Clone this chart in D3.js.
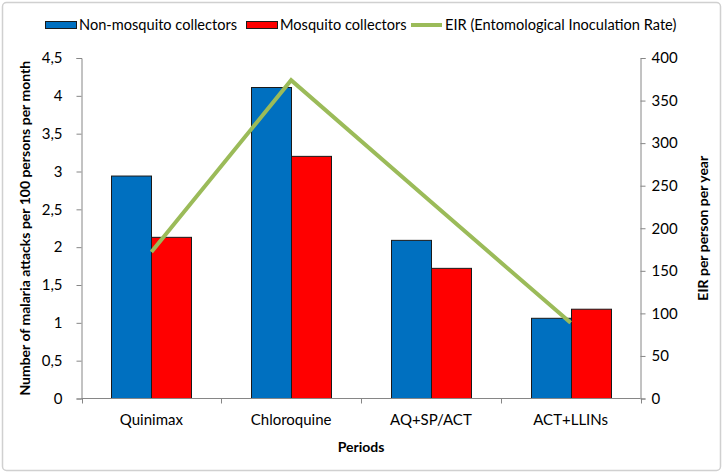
<!DOCTYPE html>
<html><head><meta charset="utf-8">
<script src="https://cdn.jsdelivr.net/npm/d3@7"></script>
<style>
body{margin:0;background:#fff;}
text{font-family:Lato,"Open Sans",sans-serif;}
</style></head>
<body><svg id="c" width="724" height="475"></svg>
<script>
const categories = ["Quinimax","Chloroquine","AQ+SP/ACT","ACT+LLINs"];
const nonMosquito = [2.94, 4.11, 2.09, 1.06];
const mosquito = [2.13, 3.20, 1.72, 1.18];
const eir = [172, 374, 231, 89];
const leftTicks = [0,0.5,1,1.5,2,2.5,3,3.5,4,4.5];
const rightTicks = [0,50,100,150,200,250,300,350,400];
const seriesNames = ["Non-mosquito collectors","Mosquito collectors","EIR (Entomological Inoculation Rate)"];

const svg = d3.select("#c");
const L = 81.5, R = 640.5, T = 58, B = 398.5;

svg.append("rect").attr("x",2.5).attr("y",2.5).attr("width",718).attr("height",468)
  .attr("rx",4).attr("fill","#fff").attr("stroke","#d0d0d0").attr("stroke-width",1.5);

const x0 = d3.scaleBand().domain(categories).range([L,R]).paddingInner(0.4275).paddingOuter(0.21375);
const x1 = d3.scaleBand().domain([0,1]).range([0,x0.bandwidth()]);
const yL = d3.scaleLinear().domain([0,4.5]).range([B,T]);
const yR = d3.scaleLinear().domain([0,400]).range([B,T]);
const fmt = d => String(d).replace(".",",");

// bars
const colors = ["#0070C0","#FF0000"];
[nonMosquito, mosquito].forEach((vals,si)=>{
  svg.append("g").selectAll("rect").data(vals).join("rect")
    .attr("x",(d,i)=>Math.round(x0(categories[i])+x1(si))+0.5)
    .attr("width",Math.round(x1.bandwidth()))
    .attr("y",d=>yL(d))
    .attr("height",d=>B-yL(d))
    .attr("fill",colors[si]).attr("stroke","#1a1a1a").attr("stroke-width",1);
});

// axes
const axColor="#868686";
const gl = svg.append("g").attr("transform",`translate(${L},0)`)
  .call(d3.axisLeft(yL).tickValues(leftTicks).tickFormat(fmt).tickSize(5).tickPadding(14));
const gr = svg.append("g").attr("transform",`translate(${R},0)`)
  .call(d3.axisRight(yR).tickValues(rightTicks).tickSize(5).tickPadding(6));
const gb = svg.append("g").attr("transform",`translate(0,${B})`)
  .call(d3.axisBottom(x0).tickSize(0).tickPadding(16));
// band boundary ticks
const bounds = categories.map(c=>x0(c)-x0.step()*x0.paddingInner()/2).concat([R]);
svg.append("g").selectAll("line").data(bounds).join("line")
  .attr("x1",d=>Math.round(d)+0.5).attr("x2",d=>Math.round(d)+0.5)
  .attr("y1",B).attr("y2",B+5).attr("stroke",axColor);
[gl,gr,gb].forEach(g=>{
  g.select(".domain").attr("stroke",axColor);
  g.selectAll(".tick line").attr("stroke",axColor);
  g.selectAll("text").attr("fill","#000").style("font-size","15px").style("font-family","Lato,sans-serif");
});
gb.select(".domain").attr("d",`M${L},0H${R}`);

// EIR line
const line = d3.line().x((d,i)=>x0(categories[i])+x0.bandwidth()/2).y(d=>yR(d));
svg.append("path").datum(eir).attr("d",line).attr("fill","none")
  .attr("stroke","#9BBB59").attr("stroke-width",4);

// axis titles
svg.append("text").attr("transform",`translate(30,${(T+B)/2}) rotate(-90)`)
  .attr("text-anchor","middle").style("font-size","14px").style("font-weight","bold")
  .text("Number of malaria attacks per 100 persons per month");
svg.append("text").attr("transform",`translate(708,${(T+B)/2}) rotate(-90)`)
  .attr("text-anchor","middle").style("font-size","14px").style("font-weight","bold")
  .text("EIR per person per year");
svg.append("text").attr("x",(L+R)/2).attr("y",452).attr("text-anchor","middle")
  .style("font-size","14px").style("font-weight","bold").text("Periods");

// legend
const leg = svg.append("g");
const items = [{x:45,type:"rect",c:colors[0]},{x:246,type:"rect",c:colors[1]},{x:411,type:"line",c:"#9BBB59"}];
items.forEach((it,i)=>{
  if(it.type==="rect"){
    leg.append("rect").attr("x",it.x+0.5).attr("y",21.5).attr("width",31).attr("height",7)
      .attr("fill",it.c).attr("stroke","#1a1a1a").attr("stroke-width",1);
  } else {
    leg.append("line").attr("x1",it.x).attr("x2",it.x+31).attr("y1",25).attr("y2",25)
      .attr("stroke",it.c).attr("stroke-width",4);
  }
  leg.append("text").attr("x",it.x+34).attr("y",30).style("font-size","14.6px").text(seriesNames[i]);
});
</script></body></html>
